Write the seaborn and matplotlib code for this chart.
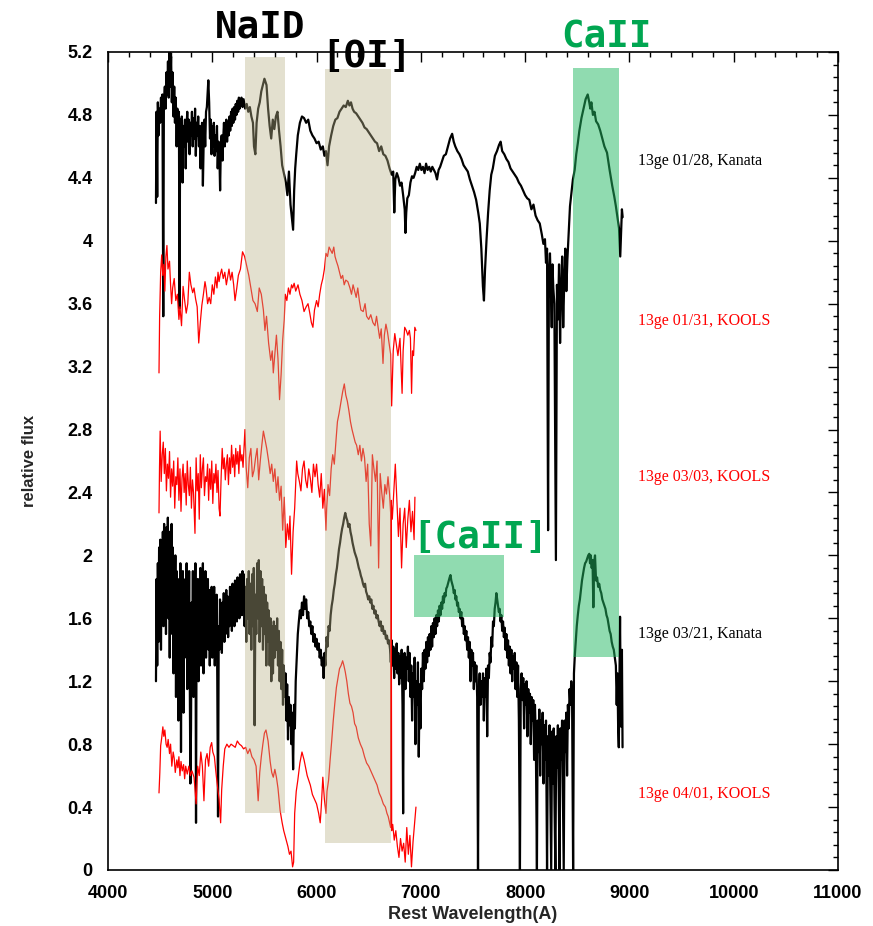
import matplotlib
matplotlib.use("Agg")
import matplotlib.pyplot as plt
from matplotlib.patches import Rectangle
from matplotlib.ticker import MultipleLocator, FuncFormatter
import seaborn as sns
import pandas as pd

# ---------------- data ----------------
# 13ge 01/28, Kanata (black, top)
wl_0128 = [4460,4465,4472,4478,4485,4492,4500,4508,4515,4522,4530,4536,4545,4552,4560,4568,4575,4582,4590,4598,
           4605,4612,4620,4628,4635,4642,4650,4658,4665,4672,4680,4686,4692,4700,4708,4715,4722,4730,4738,4745,
           4752,4760,4768,4775,4782,4790,4798,4805,4812,4820,4828,4835,4842,4850,4858,4865,4872,4880,4888,4895,
           4902,4910,4918,4925,4932,4940,4948,4955,4962,4970,4978,4985,4992,5000,5008,5015,5022,5030,5038,5045,
           5052,5060,5068,5075,5082,5090,5098,5105,5112,5120,5128,5135,5142,5150,5158,5165,5172,5180,5188,5195,
           5202,5210,5218,5225,5232,5240,5248,5255,5262,5270,5280,5290,5300,5315,5330,5345,5360,5375,5390,5400,
           5413,5425,5440,5455,5470,5485,5500,5510,5520,5535,5550,5565,5580,5595,5610,5625,5640,5655,5670,5690,
           5706,5720,5735,5750,5765,5775,5785,5795,5805,5820,5840,5860,5880,5900,5920,5940,5960,5980,6000,6020,
           6040,6060,6075,6090,6105,6120,6140,6160,6180,6200,6220,6240,6260,6280,6300,6315,6330,6345,6360,6380,
           6400,6420,6440,6460,6480,6500,6520,6540,6560,6580,6600,6620,6640,6660,6680,6700,6720,6735,6745,6755,
           6770,6785,6800,6815,6830,6845,6852,6860,6870,6885,6900,6915,6930,6945,6960,6975,6990,7005,7020,7035,
           7050,7065,7080,7095,7110,7125,7140,7155,7170,7185,7200,7220,7240,7260,7280,7300,7315,7330,7350,7370,
           7390,7410,7430,7450,7470,7490,7510,7530,7550,7565,7580,7595,7605,7615,7630,7645,7660,7675,7690,7710,
           7730,7750,7765,7780,7800,7820,7840,7860,7880,7900,7920,7940,7960,7980,8000,8020,8040,8060,8080,8100,
           8120,8140,8160,8175,8190,8200,8210,8220,8228,8238,8245,8255,8262,8270,8280,8295,8305,8315,8325,8335,
           8345,8355,8365,8375,8385,8395,8405,8415,8430,8458,8475,8490,8505,8520,8540,8560,8580,8600,8615,8625,
           8635,8650,8665,8680,8700,8720,8740,8760,8785,8810,8835,8855,8870,8885,8900,8912,8920,8928,8935]
fx_0128 = [4.24,4.82,4.28,4.88,4.67,4.84,4.75,4.91,4.77,4.93,3.52,4.88,4.98,4.84,5.07,4.93,5.14,4.91,5.20,4.98,
           5.17,4.88,5.07,4.79,4.98,4.75,4.91,4.60,4.84,4.67,4.82,3.57,4.77,4.65,4.79,4.37,4.73,4.60,4.77,4.46,
           4.70,4.82,4.63,4.77,4.55,4.75,4.67,4.82,4.60,4.78,4.65,4.84,4.54,4.75,4.67,4.79,4.60,4.73,4.46,4.67,
           4.75,4.35,4.65,4.77,4.60,4.82,4.85,4.93,5.02,4.88,4.65,4.77,4.55,4.73,4.60,4.75,4.54,4.67,4.57,4.73,
           4.46,4.63,4.55,4.32,4.60,4.67,4.51,4.65,4.75,4.60,4.70,4.77,4.63,4.75,4.67,4.79,4.70,4.82,4.73,4.84,
           4.75,4.85,4.77,4.87,4.80,4.89,4.82,4.91,4.84,4.88,4.91,4.85,4.90,4.84,4.87,4.82,4.85,4.79,4.75,4.60,
           4.55,4.75,4.84,4.88,4.95,4.99,5.03,5.01,4.99,4.84,4.73,4.65,4.77,4.71,4.79,4.82,4.70,4.60,4.48,4.42,
           4.37,4.29,4.44,4.23,4.13,4.07,4.32,4.46,4.55,4.67,4.75,4.79,4.78,4.75,4.77,4.70,4.67,4.65,4.62,4.63,
           4.58,4.60,4.54,4.57,4.48,4.60,4.67,4.73,4.77,4.78,4.82,4.84,4.86,4.85,4.89,4.86,4.88,4.84,4.82,4.81,
           4.79,4.77,4.75,4.72,4.71,4.69,4.67,4.65,4.63,4.62,4.57,4.60,4.55,4.54,4.51,4.46,4.42,4.44,4.18,4.39,
           4.43,4.40,4.35,4.37,4.29,4.20,4.05,4.18,4.27,4.29,4.37,4.41,4.40,4.43,4.47,4.45,4.49,4.45,4.47,4.43,
           4.49,4.45,4.47,4.44,4.47,4.45,4.43,4.39,4.45,4.47,4.50,4.54,4.55,4.60,4.65,4.68,4.63,4.60,4.57,4.55,
           4.52,4.48,4.46,4.44,4.39,4.35,4.31,4.26,4.18,4.11,3.95,3.71,3.62,3.81,4.01,4.18,4.32,4.42,4.46,4.54,
           4.57,4.61,4.63,4.57,4.55,4.52,4.50,4.46,4.44,4.42,4.40,4.37,4.35,4.32,4.29,4.27,4.26,4.20,4.23,4.16,
           4.13,4.11,4.04,3.98,4.01,3.86,3.95,2.16,3.80,3.92,3.75,3.45,3.85,3.70,3.60,1.97,3.72,3.50,3.85,3.35,
           3.70,3.90,3.45,3.75,3.95,3.68,3.88,4.02,4.22,4.39,4.45,4.55,4.62,4.70,4.78,4.84,4.90,4.93,4.88,4.84,
           4.88,4.80,4.82,4.76,4.74,4.70,4.65,4.60,4.56,4.45,4.35,4.28,4.22,4.15,4.08,3.90,4.05,4.20,4.15]

# 13ge 01/31, KOOLS (red)
wl_0131 = [4489,4495,4505,4515,4525,4535,4545,4555,4565,4575,4590,4600,4610,4620,4635,4650,4665,4680,4690,4705,
           4720,4735,4750,4765,4780,4795,4812,4825,4840,4855,4870,4885,4900,4915,4930,4940,4955,4970,4985,5000,
           5015,5030,5045,5055,5065,5075,5090,5105,5120,5135,5150,5160,5175,5190,5205,5218,5235,5250,5270,5290,
           5310,5330,5350,5370,5390,5410,5432,5450,5470,5490,5505,5520,5540,5560,5575,5585,5600,5615,5630,5645,
           5660,5675,5690,5700,5715,5730,5745,5760,5771,5785,5800,5822,5840,5860,5880,5900,5918,5935,5950,5965,
           5980,6000,6015,6030,6045,6060,6075,6090,6105,6120,6135,6150,6165,6177,6190,6205,6220,6235,6250,6265,
           6280,6300,6320,6335,6350,6365,6380,6395,6410,6425,6447,6465,6480,6500,6520,6540,6560,6575,6590,6605,
           6620,6637,6650,6665,6680,6695,6710,6720,6735,6750,6765,6780,6800,6810,6820,6830,6845,6860,6875,6890,
           6900,6911,6920,6930,6942,6953]
fx_0131 = [3.16,3.52,3.80,3.91,3.78,3.85,3.68,3.90,3.97,3.82,3.87,3.72,3.60,3.70,3.76,3.62,3.66,3.50,3.58,3.46,
           3.71,3.62,3.54,3.60,3.80,3.72,3.67,3.70,3.63,3.58,3.35,3.48,3.59,3.66,3.74,3.70,3.60,3.64,3.60,3.72,
           3.66,3.77,3.70,3.80,3.74,3.78,3.82,3.76,3.80,3.72,3.78,3.82,3.75,3.80,3.72,3.62,3.70,3.78,3.82,3.93,
           3.90,3.84,3.78,3.70,3.62,3.60,3.55,3.70,3.66,3.56,3.43,3.52,3.35,3.24,3.30,3.16,3.28,3.40,3.25,2.99,
           3.15,3.37,3.50,3.66,3.62,3.70,3.66,3.72,3.70,3.73,3.68,3.72,3.66,3.62,3.55,3.58,3.60,3.54,3.48,3.45,
           3.56,3.62,3.58,3.66,3.72,3.76,3.82,3.92,3.90,3.96,3.94,3.92,3.96,3.90,3.87,3.84,3.80,3.76,3.78,3.72,
           3.75,3.74,3.70,3.66,3.72,3.68,3.64,3.70,3.62,3.56,3.55,3.60,3.52,3.50,3.53,3.48,3.46,3.52,3.45,3.38,
           3.44,3.22,3.40,3.47,3.42,3.35,3.28,2.95,3.30,3.41,3.34,3.27,3.38,3.20,3.03,3.30,3.45,3.43,3.40,3.43,
           3.38,3.03,3.30,3.27,3.45,3.43]

# 13ge 03/03, KOOLS (red)
wl_0303 = [4489,4494,4500,4510,4520,4530,4540,4550,4560,4570,4580,4590,4600,4610,4620,4630,4640,4650,4660,4670,
           4680,4690,4700,4710,4720,4730,4740,4750,4760,4770,4780,4790,4800,4810,4820,4834,4845,4855,4865,4875,
           4885,4895,4905,4915,4925,4935,4945,4955,4965,4975,4985,4995,5005,5015,5025,5035,5045,5055,5065,5074,
           5085,5095,5105,5115,5125,5135,5145,5155,5165,5175,5185,5195,5205,5215,5225,5235,5245,5255,5265,5275,
           5285,5295,5313,5325,5340,5355,5370,5385,5400,5415,5430,5445,5460,5475,5490,5505,5522,5540,5555,5570,
           5585,5600,5615,5630,5645,5660,5675,5690,5705,5720,5735,5745,5760,5775,5790,5800,5809,5820,5835,5850,
           5865,5880,5895,5910,5925,5940,5955,5970,5985,6000,6015,6030,6045,6060,6075,6090,6097,6110,6125,6140,
           6155,6170,6185,6200,6215,6230,6250,6266,6280,6295,6310,6325,6340,6355,6370,6384,6400,6415,6430,6445,
           6460,6475,6490,6505,6520,6535,6550,6565,6580,6595,6610,6625,6640,6655,6670,6685,6700,6712,6718,6726,
           6740,6755,6770,6785,6800,6815,6830,6845,6860,6875,6890,6905,6920,6935,6943]
fx_0303 = [2.27,2.56,2.79,2.47,2.64,2.72,2.52,2.68,2.41,2.58,2.49,2.66,2.37,2.55,2.44,2.60,2.30,2.50,2.45,2.62,
           2.35,2.55,2.28,2.49,2.58,2.40,2.52,2.32,2.60,2.45,2.38,2.56,2.30,2.48,2.40,2.14,2.62,2.41,2.52,2.23,
           2.64,2.43,2.55,2.62,2.38,2.50,2.47,2.58,2.35,2.55,2.42,2.60,2.33,2.52,2.46,2.58,2.40,2.54,2.30,2.25,
           2.50,2.68,2.55,2.62,2.48,2.58,2.64,2.45,2.62,2.52,2.70,2.56,2.64,2.50,2.68,2.58,2.66,2.52,2.70,2.60,
           2.64,2.56,2.80,2.56,2.43,2.62,2.68,2.50,2.54,2.62,2.68,2.48,2.60,2.70,2.79,2.74,2.68,2.60,2.52,2.58,
           2.47,2.55,2.40,2.50,2.35,2.44,2.16,2.37,2.05,2.20,2.10,2.25,1.88,2.15,2.30,2.45,2.60,2.52,2.47,2.41,
           2.55,2.60,2.48,2.43,2.55,2.49,2.40,2.58,2.50,2.58,2.45,2.37,2.52,2.30,2.42,2.16,2.30,2.45,2.38,2.55,
           2.64,2.58,2.72,2.85,2.90,2.96,3.04,3.09,3.02,2.98,2.92,2.85,2.80,2.76,2.72,2.70,2.64,2.70,2.60,2.68,
           2.62,2.47,2.58,2.20,2.06,2.64,2.55,2.47,2.60,1.92,2.52,2.40,2.30,2.45,2.39,2.50,2.39,2.25,2.32,2.23,
           2.40,2.58,2.35,2.12,2.30,1.92,2.20,2.30,2.05,2.23,2.35,2.15,2.28,2.10,2.37]

# 13ge 03/21, Kanata (black)
wl_0321 = [4460,4466,4472,4478,4484,4490,4496,4502,4508,4514,4520,4526,4532,4538,4544,4550,4556,4562,4568,4574,
           4580,4586,4592,4598,4604,4610,4616,4622,4628,4634,4640,4646,4652,4658,4664,4670,4676,4682,4688,4694,
           4700,4706,4712,4718,4724,4730,4736,4742,4748,4754,4760,4766,4772,4778,4784,4790,4796,4802,4808,4814,
           4820,4826,4832,4838,4844,4850,4856,4862,4868,4874,4880,4886,4892,4898,4904,4910,4916,4922,4928,4934,
           4940,4946,4952,4958,4964,4970,4976,4982,4988,4994,5000,5006,5012,5018,5024,5030,5036,5042,5048,5055,
           5062,5068,5074,5080,5086,5092,5098,5104,5110,5116,5122,5128,5134,5140,5146,5152,5158,5164,5170,5176,
           5182,5188,5194,5200,5206,5212,5218,5224,5230,5236,5242,5248,5254,5260,5266,5272,5278,5284,5290,5296,
           5302,5310,5318,5326,5334,5342,5350,5358,5366,5374,5382,5390,5398,5406,5414,5422,5430,5438,5446,5454,
           5462,5470,5478,5486,5494,5502,5510,5518,5526,5534,5542,5550,5558,5566,5574,5582,5590,5598,5606,5614,
           5622,5630,5638,5646,5654,5662,5670,5678,5686,5694,5702,5710,5718,5726,5734,5742,5750,5758,5766,5775,
           5784,5792,5800,5810,5820,5830,5840,5850,5860,5870,5880,5890,5900,5910,5920,5930,5940,5950,5960,5970,
           5980,5990,6000,6010,6020,6030,6040,6050,6060,6068,6076,6085,6095,6105,6115,6125,6135,6145,6155,6165,
           6175,6185,6195,6205,6215,6225,6235,6245,6255,6265,6275,6285,6295,6305,6315,6325,6335,6345,6355,6365,
           6375,6385,6395,6405,6415,6425,6435,6445,6455,6465,6475,6485,6495,6505,6515,6525,6535,6545,6555,6565,
           6575,6585,6595,6605,6615,6625,6635,6645,6655,6665,6675,6685,6695,6705,6712,6720,6728,6736,6744,6752,
           6760,6768,6776,6784,6792,6800,6808,6816,6824,6830,6836,6844,6852,6860,6868,6876,6884,6892,6900,6908,
           6916,6924,6932,6940,6948,6956,6964,6972,6980,6988,6996,7004,7012,7020,7028,7036,7044,7052,7060,7068,
           7076,7084,7092,7100,7108,7116,7124,7132,7140,7148,7156,7164,7172,7180,7188,7196,7204,7212,7220,7228,
           7236,7244,7252,7260,7268,7276,7284,7292,7300,7308,7316,7324,7332,7340,7348,7356,7364,7372,7380,7388,
           7396,7404,7412,7420,7428,7436,7444,7452,7460,7468,7476,7484,7492,7500,7508,7516,7524,7532,7540,7548,
           7556,7564,7572,7580,7588,7596,7604,7612,7620,7628,7636,7644,7652,7660,7668,7676,7684,7692,7700,7708,
           7716,7724,7732,7740,7748,7756,7764,7772,7780,7788,7796,7804,7812,7820,7828,7836,7844,7852,7860,7868,
           7876,7884,7892,7900,7908,7916,7924,7932,7940,7950,7958,7966,7974,7982,7990,7998,8006,8014,8022,8030,
           8038,8046,8054,8062,8070,8078,8086,8094,8102,8113,8120,8128,8136,8144,8152,8160,8168,8176,8184,8192,
           8200,8210,8218,8226,8234,8242,8250,8258,8266,8274,8282,8290,8298,8306,8314,8322,8330,8338,8346,8354,
           8362,8370,8378,8386,8394,8402,8410,8418,8426,8434,8442,8450,8460,8468,8476,8485,8495,8505,8515,8525,
           8535,8545,8555,8565,8575,8585,8595,8605,8615,8622,8630,8638,8646,8654,8662,8670,8680,8690,8700,8710,
           8720,8730,8740,8750,8760,8770,8780,8790,8800,8810,8820,8830,8840,8850,8860,8870,8878,8885,8892,8898,
           8904,8910,8916,8922,8928,8934]
fx_0321 = [1.20,1.85,1.30,1.95,1.45,2.05,1.60,2.10,1.40,2.00,1.70,2.15,1.55,2.20,1.75,2.12,1.50,2.18,1.80,2.24,
           1.60,2.15,1.35,2.10,1.70,2.20,1.50,2.05,1.25,1.95,1.60,2.00,1.10,1.90,1.45,1.85,0.95,1.80,1.40,1.95,
           0.75,1.80,1.55,1.90,1.00,1.75,1.35,1.85,1.50,1.95,1.15,1.80,1.40,1.90,1.25,0.55,0.90,1.70,1.40,1.90,
           1.10,1.75,1.45,1.95,0.30,1.70,1.35,1.85,1.20,1.80,1.50,1.92,1.30,1.75,1.55,1.95,1.25,1.80,1.45,1.90,
           1.35,1.75,1.60,1.85,1.40,1.78,1.30,1.72,1.50,1.80,1.35,1.70,1.45,1.80,1.30,1.65,1.50,1.75,1.20,0.34,
           1.55,1.40,1.72,1.45,1.68,1.38,1.70,1.52,1.76,1.45,1.70,1.50,1.78,1.55,1.74,1.48,1.72,1.55,1.80,1.60,
           1.75,1.52,1.82,1.62,1.78,1.55,1.84,1.65,1.80,1.58,1.86,1.68,1.82,1.60,1.88,1.66,1.85,1.62,1.90,1.70,
           1.88,1.55,1.80,1.45,1.85,1.60,1.90,1.50,1.82,1.40,1.88,1.55,1.92,0.92,1.75,1.50,1.95,1.60,1.97,1.45,
           1.90,1.55,1.85,1.40,1.80,1.50,1.75,1.30,1.70,1.45,1.65,1.30,1.60,1.20,1.55,1.25,1.58,1.35,1.55,1.40,
           1.60,1.30,1.52,1.20,1.45,1.15,1.40,1.05,1.30,1.10,1.25,0.95,1.18,0.83,1.10,0.92,1.05,0.80,1.00,0.64,
           1.05,0.90,1.20,1.35,1.50,1.58,1.65,1.60,1.70,1.62,1.74,1.66,1.72,1.60,1.64,1.55,1.58,1.50,1.55,1.45,
           1.50,1.42,1.47,1.40,1.44,1.35,1.40,1.30,1.35,1.22,1.38,1.30,1.48,1.42,1.55,1.52,1.62,1.68,1.72,1.78,
           1.82,1.88,1.92,1.98,2.04,2.08,2.13,2.17,2.20,2.24,2.27,2.24,2.22,2.18,2.20,2.15,2.12,2.08,2.05,2.02,
           2.00,1.98,1.95,1.92,1.90,1.87,1.85,1.82,1.80,1.82,1.77,1.75,1.72,1.74,1.70,1.72,1.66,1.68,1.63,1.65,
           1.60,1.62,1.58,1.55,1.58,1.52,1.55,1.50,1.52,1.47,1.49,1.44,1.46,1.40,1.32,1.46,1.30,1.42,1.22,1.40,
           1.28,1.44,1.25,1.38,1.18,1.36,1.22,1.40,1.05,0.36,1.20,1.38,1.15,1.35,1.28,1.42,1.20,1.38,1.10,1.30,
           0.95,1.25,1.10,1.35,0.80,1.20,1.05,1.32,0.72,1.18,0.90,1.28,1.15,1.38,1.20,1.40,1.28,1.45,1.32,1.48,
           1.36,1.50,1.40,1.55,1.42,1.57,1.48,1.60,1.50,1.62,1.55,1.65,1.58,1.68,1.62,1.70,1.66,1.74,1.70,1.76,
           1.74,1.79,1.80,1.82,1.84,1.86,1.875,1.84,1.82,1.80,1.76,1.78,1.72,1.74,1.68,1.70,1.64,1.66,1.60,1.64,
           1.55,1.60,1.50,1.55,1.46,1.52,1.40,1.48,1.35,1.45,1.20,1.40,1.30,1.38,1.15,1.32,1.20,1.30,1.10,0.00,
           1.12,1.25,1.05,1.20,1.10,1.25,0.95,1.22,1.10,1.28,0.85,1.30,1.22,1.38,1.32,1.48,1.42,1.58,1.55,1.66,
           1.70,1.76,1.72,1.68,1.64,1.66,1.58,1.62,1.52,1.58,1.48,1.54,1.40,1.50,1.35,1.46,1.30,1.42,1.25,1.40,
           1.20,1.36,1.28,1.38,1.15,1.32,1.10,1.30,0.95,0.00,1.15,1.25,1.08,1.22,0.90,1.18,1.05,1.20,0.85,1.15,
           1.00,1.12,0.80,1.10,0.95,1.08,0.70,1.05,0.85,0.00,0.95,0.75,1.02,0.60,0.95,0.80,1.00,0.55,0.92,0.70,
           0.95,0.00,0.85,0.60,0.92,0.45,0.00,0.88,0.55,0.90,0.40,0.00,0.85,0.65,0.92,0.50,0.00,0.90,0.70,0.95,
           0.45,0.00,0.95,0.75,1.00,0.60,1.05,0.90,1.15,1.05,1.20,1.10,0.00,1.25,1.36,1.45,1.55,1.62,1.68,1.72,
           1.78,1.84,1.88,1.92,1.95,1.96,1.98,2.00,2.01,1.95,2.00,1.92,1.97,1.67,1.96,2.00,1.84,1.86,1.80,1.82,
           1.78,1.76,1.72,1.70,1.68,1.66,1.62,1.60,1.56,1.52,1.50,1.45,1.42,1.40,1.35,1.30,1.05,1.25,0.90,0.78,
           1.20,1.61,1.10,0.91,1.40,0.78]

# 13ge 04/01, KOOLS (red, bottom)
wl_0401 = [4489,4497,4505,4515,4526,4535,4545,4557,4567,4577,4590,4600,4612,4625,4635,4645,4660,4670,4680,4690,
           4700,4712,4725,4735,4745,4760,4775,4790,4805,4825,4845,4860,4875,4890,4905,4920,4935,4950,4965,4980,
           4994,5005,5020,5035,5050,5065,5080,5090,5105,5120,5140,5160,5180,5200,5220,5240,5260,5280,5300,5320,
           5340,5360,5380,5400,5420,5440,5455,5470,5485,5500,5515,5535,5555,5570,5585,5600,5615,5630,5650,5670,
           5685,5697,5710,5725,5740,5755,5770,5780,5790,5805,5820,5840,5860,5880,5895,5910,5925,5940,5960,5980,
           6000,6020,6035,6045,6060,6075,6090,6100,6115,6130,6145,6160,6175,6190,6205,6220,6235,6250,6262,6275,
           6290,6305,6320,6335,6350,6365,6380,6400,6420,6440,6460,6480,6500,6520,6540,6560,6580,6600,6620,6640,
           6660,6675,6687,6700,6710,6715,6720,6730,6745,6760,6775,6790,6805,6820,6835,6850,6865,6880,6895,6910,
           6925,6940,6953]
fx_0401 = [0.49,0.62,0.79,0.84,0.91,0.85,0.89,0.80,0.78,0.83,0.74,0.80,0.66,0.75,0.71,0.62,0.70,0.65,0.72,0.60,
           0.69,0.63,0.67,0.58,0.66,0.61,0.66,0.60,0.63,0.59,0.42,0.66,0.60,0.75,0.66,0.44,0.70,0.74,0.66,0.78,
           0.81,0.75,0.72,0.62,0.53,0.45,0.30,0.51,0.66,0.77,0.80,0.78,0.80,0.79,0.78,0.82,0.80,0.79,0.77,0.78,
           0.74,0.77,0.72,0.70,0.66,0.44,0.62,0.72,0.80,0.87,0.89,0.82,0.69,0.62,0.59,0.64,0.59,0.52,0.38,0.30,
           0.25,0.22,0.19,0.15,0.10,0.12,0.02,0.05,0.36,0.50,0.57,0.68,0.75,0.70,0.65,0.60,0.57,0.54,0.48,0.45,
           0.42,0.36,0.30,0.40,0.59,0.45,0.36,0.50,0.57,0.70,0.82,0.95,1.06,1.16,1.22,1.28,1.30,1.33,1.30,1.26,
           1.20,1.12,1.06,1.04,1.00,0.93,0.91,0.84,0.80,0.77,0.72,0.68,0.66,0.63,0.60,0.57,0.54,0.49,0.46,0.42,
           0.40,0.36,0.34,0.30,0.27,2.35,0.25,0.29,0.19,0.25,0.15,0.08,0.20,0.12,0.17,0.05,0.27,0.10,0.22,0.02,
           0.18,0.30,0.40]

# annotation boxes
band_labels = ["NaID", "[OI]", "CaII", "[CaII]"]
band_x0 = [5314, 6080, 8458, 6934]
band_x1 = [5697, 6713, 8897, 7802]
band_y0 = [0.36, 0.17, 1.355, 1.61]
band_y1 = [5.17, 5.09, 5.10, 2.00]
band_kind = ["tan", "tan", "green", "green"]
label_x = [5457, 6474, 8784, 7567]
label_y = [5.29, 5.105, 5.23, 2.05]

spec_labels = ["13ge 01/28, Kanata", "13ge 01/31, KOOLS", "13ge 03/03, KOOLS",
               "13ge 03/21, Kanata", "13ge 04/01, KOOLS"]
spec_label_y = [4.51, 3.49, 2.50, 1.50, 0.48]
spec_colors = ["black", "red", "red", "black", "red"]

x_ticks = [4000, 5000, 6000, 7000, 8000, 9000, 10000, 11000]
y_ticks = [0, 0.4, 0.8, 1.2, 1.6, 2.0, 2.4, 2.8, 3.2, 3.6, 4.0, 4.4, 4.8, 5.2]

# ---------------- plotting ----------------
sns.set_style("white")
plt.rcParams["font.family"] = ["Liberation Sans", "DejaVu Sans"]

fig = plt.figure(figsize=(8.73, 9.26), dpi=100)
ax = fig.add_axes([108/873, 1 - 870/926, (838 - 108)/873, (870 - 52)/926])

series = [(wl_0128, fx_0128, "black", 1.6),
          (wl_0131, fx_0131, "red", 0.9),
          (wl_0303, fx_0303, "red", 0.9),
          (wl_0321, fx_0321, "black", 1.6),
          (wl_0401, fx_0401, "red", 0.9)]
for wl, fx, col, lw in series:
    df = pd.DataFrame({"wl": wl, "fx": fx})
    sns.lineplot(data=df, x="wl", y="fx", ax=ax, color=col, linewidth=lw,
                 sort=False, estimator=None, zorder=2)

tan = (185/255, 178/255, 137/255)
green = (35/255, 185/255, 99/255)
for lab, x0, x1, y0, y1, kind, lx, ly in zip(band_labels, band_x0, band_x1, band_y0,
                                              band_y1, band_kind, label_x, label_y):
    fc, a = (tan, 0.4) if kind == "tan" else (green, 0.5)
    ax.add_patch(Rectangle((x0, y0), x1 - x0, y1 - y0, facecolor=fc, alpha=a,
                           edgecolor="none", zorder=3))
    tcol = "black" if kind == "tan" else "#00A651"
    ax.text(lx, ly, lab, ha="center", va="baseline", fontsize=27,
            fontweight="bold", family="DejaVu Sans Mono", color=tcol,
            clip_on=False, zorder=5)

for s, y, c in zip(spec_labels, spec_label_y, spec_colors):
    ax.text(9082, y, s, ha="left", va="center", fontsize=11.5,
            family="Liberation Serif", color=c, zorder=5)

ax.set_xlim(4000, 11000)
ax.set_ylim(0, 5.2)
ax.set_xticks(x_ticks)
ax.set_yticks(y_ticks)
ax.xaxis.set_minor_locator(MultipleLocator(200))
ax.yaxis.set_minor_locator(MultipleLocator(0.08))
ax.yaxis.set_major_formatter(FuncFormatter(lambda v, p: f"{v:g}"))
ax.tick_params(which="both", direction="in", top=True, right=True,
               colors="black", width=1.0)
ax.tick_params(which="major", length=7, labelsize=13)
ax.tick_params(axis="x", which="major", pad=11)
ax.tick_params(axis="y", which="major", pad=11)
ax.tick_params(which="minor", length=3.5)
for lbl in ax.get_xticklabels() + ax.get_yticklabels():
    lbl.set_fontweight("bold")
for sp in ax.spines.values():
    sp.set_color("black")
    sp.set_linewidth(1.2)

ax.set_xlabel("Rest Wavelength(A)", fontsize=13, fontweight="bold", labelpad=3)
ax.set_ylabel("relative flux", fontsize=12, fontweight="bold", labelpad=22)

fig.savefig("out.png", dpi=100)
